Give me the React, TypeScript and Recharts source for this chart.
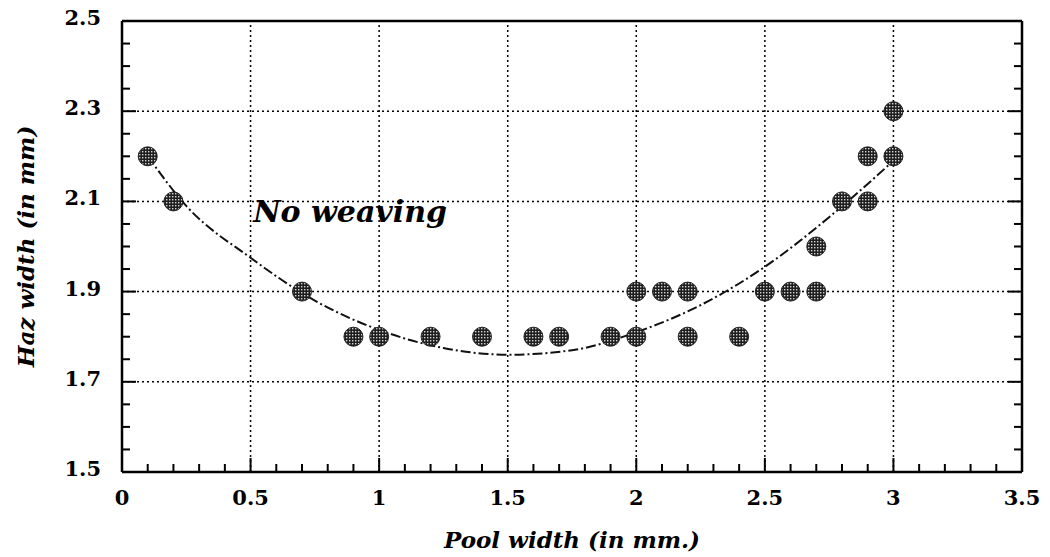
import {
  ComposedChart,
  Scatter,
  Line,
  XAxis,
  YAxis,
  ReferenceLine,
  ReferenceDot,
} from 'recharts'

// measured bead widths
const poolWidth = [
  0.1, 0.2, 0.7, 0.9, 1.0, 1.2, 1.4, 1.6, 1.7, 1.9, 2.0, 2.0, 2.1, 2.2, 2.2,
  2.4, 2.5, 2.6, 2.7, 2.7, 2.8, 2.9, 2.9, 3.0, 3.0,
]
const hazWidth = [
  2.2, 2.1, 1.9, 1.8, 1.8, 1.8, 1.8, 1.8, 1.8, 1.8, 1.8, 1.9, 1.9, 1.9, 1.8,
  1.8, 1.9, 1.9, 1.9, 2.0, 2.1, 2.1, 2.2, 2.2, 2.3,
]

// fitted trend curve
const fitPool = [0.1, 0.25, 0.5, 0.75, 1.0, 1.25, 1.5, 1.75, 2.0, 2.25, 2.5, 2.75, 3.0]
const fitHaz = [2.2, 2.09, 1.975, 1.88, 1.815, 1.775, 1.76, 1.77, 1.81, 1.87, 1.955, 2.065, 2.19]

const xMajor = [0, 0.5, 1, 1.5, 2, 2.5, 3, 3.5]
const xTicks = [
  0, 0.1, 0.2, 0.3, 0.4, 0.5, 0.6, 0.7, 0.8, 0.9, 1, 1.1, 1.2, 1.3, 1.4, 1.5,
  1.6, 1.7, 1.8, 1.9, 2, 2.1, 2.2, 2.3, 2.4, 2.5, 2.6, 2.7, 2.8, 2.9, 3, 3.1,
  3.2, 3.3, 3.4, 3.5,
]
const yMajor = [1.5, 1.7, 1.9, 2.1, 2.3, 2.5]
const yTicks = [
  1.5, 1.55, 1.6, 1.65, 1.7, 1.75, 1.8, 1.85, 1.9, 1.95, 2.0, 2.05, 2.1, 2.15,
  2.2, 2.25, 2.3, 2.35, 2.4, 2.45, 2.5,
]
const xGrid = [0.5, 1, 1.5, 2, 2.5, 3]
const yGrid = [1.7, 1.9, 2.1, 2.3]

const points = poolWidth.map((x, i) => ({ x, y: hazWidth[i] }))
const fit = fitPool.map((x, i) => ({ x, y: fitHaz[i] }))

const ink = '#000'
const tickFont = {
  fontFamily: '"DejaVu Serif", serif',
  fontWeight: 700,
  fontSize: 21,
  fill: ink,
}
const titleFont = {
  fontFamily: '"DejaVu Serif", serif',
  fontWeight: 700,
  fontStyle: 'italic',
  fontSize: 23,
  fill: ink,
}

const isMajor = (v: number, majors: number[]) =>
  majors.some((m) => Math.abs(m - v) < 1e-6)

const MAJOR_LEN = 14
const MINOR_LEN = 8

function BottomTick({ x, y, payload }: any) {
  const major = isMajor(payload.value, xMajor)
  return (
    <g>
      <line x1={x} x2={x} y1={y} y2={y - (major ? MAJOR_LEN : MINOR_LEN)} stroke={ink} strokeWidth={2} />
      {major && (
        <text x={x} y={y + 33} textAnchor="middle" style={tickFont}>
          {String(payload.value)}
        </text>
      )}
    </g>
  )
}

function TopTick({ x, y, payload }: any) {
  const major = isMajor(payload.value, xMajor)
  return <line x1={x} x2={x} y1={y} y2={y + (major ? MAJOR_LEN : MINOR_LEN)} stroke={ink} strokeWidth={2} />
}

function LeftTick({ x, y, payload }: any) {
  const major = isMajor(payload.value, yMajor)
  return (
    <g>
      <line x1={x} x2={x + (major ? MAJOR_LEN : MINOR_LEN)} y1={y} y2={y} stroke={ink} strokeWidth={2} />
      {major && (
        <text x={x - 21} y={y + 4} textAnchor="end" style={tickFont}>
          {payload.value.toFixed(1)}
        </text>
      )}
    </g>
  )
}

function RightTick({ x, y, payload }: any) {
  const major = isMajor(payload.value, yMajor)
  return <line x1={x} x2={x - (major ? MAJOR_LEN : MINOR_LEN)} y1={y} y2={y} stroke={ink} strokeWidth={2} />
}

// stippled grey dot like an old laser print
function HalftoneDot({ cx, cy }: any) {
  if (cx == null || cy == null) return null
  return (
    <g>
      <defs>
        <pattern id="halftone" width="3" height="3" patternUnits="userSpaceOnUse">
          <rect width="3" height="3" fill="#1e1e1e" />
          <rect x="1" y="1" width="1.4" height="1.4" fill="#d4d4d4" />
        </pattern>
      </defs>
      <circle cx={cx} cy={cy} r={9.5} fill="url(#halftone)" stroke="#222" strokeWidth={1} />
    </g>
  )
}

const axisLine = { stroke: ink, strokeWidth: 2.5 }

export default function App() {
  return (
    <div style={{ position: 'absolute', left: 0, top: 0, background: '#fff' }}>
      <ComposedChart width={1050} height={557} margin={{ top: 0, right: 0, bottom: 0, left: 0 }}>
        <XAxis
          dataKey="x"
          type="number"
          domain={[0, 3.5]}
          ticks={xTicks}
          interval={0}
          tickSize={0}
          tickMargin={0}
          tick={BottomTick}
          axisLine={axisLine}
          height={85}
          allowDataOverflow
          label={{
            content: ({ viewBox }: any) => (
              <text
                x={viewBox.x + viewBox.width / 2}
                y={viewBox.y + 76}
                textAnchor="middle"
                style={titleFont}
              >
                Pool width (in mm.)
              </text>
            ),
          }}
        />
        <XAxis
          xAxisId="top"
          orientation="top"
          type="number"
          domain={[0, 3.5]}
          ticks={xTicks}
          interval={0}
          tickSize={0}
          tickMargin={0}
          tick={TopTick}
          axisLine={axisLine}
          height={21}
          allowDataOverflow
        />
        <YAxis
          type="number"
          domain={[1.5, 2.5]}
          ticks={yTicks}
          interval={0}
          tickSize={0}
          tickMargin={0}
          tick={LeftTick}
          axisLine={axisLine}
          width={122}
          allowDataOverflow
          label={{
            content: ({ viewBox }: any) => {
              const cx = viewBox.x + 25
              const cy = viewBox.y + viewBox.height / 2
              return (
                <text
                  x={cx}
                  y={cy}
                  transform={`rotate(-90 ${cx} ${cy})`}
                  textAnchor="middle"
                  dominantBaseline="central"
                  style={titleFont}
                >
                  Haz width (in mm)
                </text>
              )
            },
          }}
        />
        <YAxis
          yAxisId="right"
          orientation="right"
          type="number"
          domain={[1.5, 2.5]}
          ticks={yTicks}
          interval={0}
          tickSize={0}
          tickMargin={0}
          tick={RightTick}
          axisLine={axisLine}
          width={28}
          allowDataOverflow
        />

        {xGrid.map((v) => (
          <ReferenceLine key={`gx${v}`} x={v} stroke={ink} strokeWidth={1.5} strokeDasharray="2 3" />
        ))}
        {yGrid.map((v) => (
          <ReferenceLine key={`gy${v}`} y={v} stroke={ink} strokeWidth={1.5} strokeDasharray="2 3" />
        ))}

        <Line
          data={fit}
          dataKey="y"
          type="monotone"
          stroke="#111"
          strokeWidth={2}
          strokeDasharray="10 3 2 3"
          dot={false}
          activeDot={false}
          isAnimationActive={false}
        />
        <Scatter data={points} dataKey="y" shape={HalftoneDot} isAnimationActive={false} />

        <ReferenceDot
          x={0.51}
          y={2.055}
          r={0}
          fill="none"
          stroke="none"
          label={{
            content: ({ viewBox }: any) => (
              <text
                x={viewBox.x}
                y={viewBox.y}
                style={{ ...titleFont, fontSize: 30, fontWeight: 800 }}
              >
                No weaving
              </text>
            ),
          }}
        />
      </ComposedChart>
    </div>
  )
}
